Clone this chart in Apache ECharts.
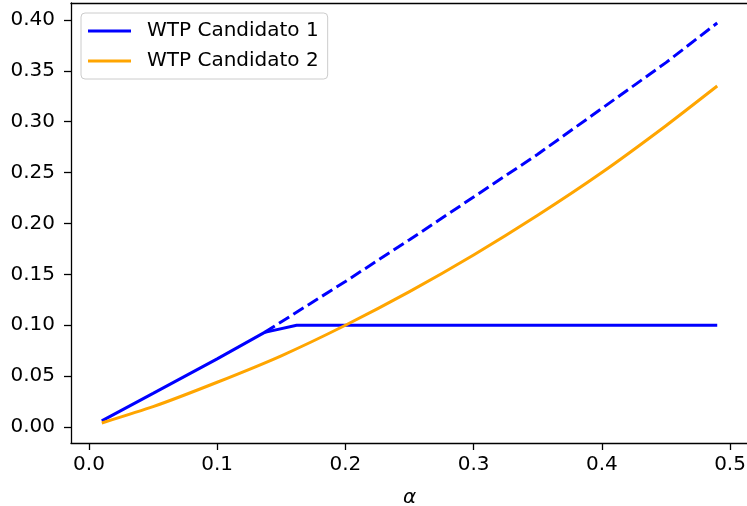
<!DOCTYPE html>
<html>
<head>
<meta charset="utf-8">
<script src="https://cdn.jsdelivr.net/npm/echarts@6/dist/echarts.min.js"></script>
<style>
  html, body { margin: 0; padding: 0; background: #fff; }
  #viz { width: 747px; height: 506px; }
</style>
</head>
<body>
<div id="viz"></div>
<script>
// values
var alphaBlue = [0.01, 0.05, 0.10, 0.137, 0.162, 0.49];
var wtpBlue = [0.006, 0.033, 0.067, 0.093, 0.100, 0.100];

var alphaDash = [0.137, 0.20, 0.25, 0.30, 0.35, 0.40, 0.45, 0.49];
var wtpDash = [0.093, 0.143, 0.184, 0.226, 0.268, 0.313, 0.358, 0.397];

var alphaOrange = [0.01, 0.05, 0.10, 0.15, 0.20, 0.25, 0.30, 0.35, 0.40, 0.45, 0.49];
var wtpOrange = [0.004, 0.020, 0.044, 0.070, 0.100, 0.133, 0.169, 0.208, 0.250, 0.296, 0.335];

var xTicks = [0.0, 0.1, 0.2, 0.3, 0.4, 0.5];
var yTicks = [0.00, 0.05, 0.10, 0.15, 0.20, 0.25, 0.30, 0.35, 0.40];

var names = ['WTP Candidato 1', 'WTP Candidato 2'];

function pairs(xs, ys){
    var out = [];
    for (var i = 0; i < xs.length; i++){
        out.push([xs[i], ys[i]]);
    }
    return out;
}

var FONT = 'DejaVu Sans';
var myChart = echarts.init(document.getElementById('viz'));

var spine = { show: true, onZero: false, lineStyle: { color: '#000', width: 1.3 } };

var option = {
    animation: false,
    backgroundColor: '#ffffff',
    textStyle: { fontFamily: FONT },
    grid: {
        left: 71, top: 3, bottom: 63, width: 677,
        containLabel: false,
        outerBoundsMode: 'none',
        show: false
    },
    legend: {
        data: names,
        orient: 'vertical',
        left: 81, top: 13,
        padding: [8, 9, 8, 7],
        itemGap: 10,
        itemWidth: 43,
        itemHeight: 3,
        icon: 'rect',
        borderColor: '#cccccc',
        borderWidth: 1,
        borderRadius: 4,
        backgroundColor: 'rgba(255,255,255,0.8)',
        textStyle: { fontFamily: FONT, fontSize: 20, color: '#000', padding: [0, 0, 0, 11] }
    },
    xAxis: [{
        type: 'value',
        min: -0.014, max: 0.514,
        name: 'α',
        nameLocation: 'middle',
        nameGap: 45,
        nameTextStyle: { fontFamily: FONT, fontSize: 20, fontStyle: 'italic', color: '#000' },
        axisLine: spine,
        axisTick: { show: true, length: 7, customValues: xTicks, lineStyle: { color: '#000', width: 1.3 } },
        axisLabel: {
            customValues: xTicks,
            margin: 12,
            fontFamily: FONT, fontSize: 20, color: '#000',
            formatter: function(v){ return v.toFixed(1); }
        },
        splitLine: { show: false }
    }, {
        // top spine only
        type: 'value',
        position: 'top',
        min: -0.014, max: 0.514,
        axisLine: spine,
        axisTick: { show: false },
        axisLabel: { show: false },
        splitLine: { show: false }
    }],
    yAxis: {
        type: 'value',
        min: -0.0157, max: 0.4166,
        axisLine: spine,
        axisTick: { show: true, length: 7, customValues: yTicks, lineStyle: { color: '#000', width: 1.3 } },
        axisLabel: {
            customValues: yTicks,
            margin: 16,
            fontFamily: FONT, fontSize: 20, color: '#000',
            formatter: function(v){ return v.toFixed(2); }
        },
        splitLine: { show: false }
    },
    series: [{
        name: names[0],
        type: 'line',
        color: '#0000ff',
        showSymbol: false,
        symbol: 'none',
        lineStyle: { color: '#0000ff', width: 3 },
        data: pairs(alphaBlue, wtpBlue),
        z: 2
    }, {
        name: 'dashed',
        type: 'line',
        showSymbol: false,
        symbol: 'none',
        lineStyle: { color: '#0000ff', width: 3, type: [12, 5] },
        data: pairs(alphaDash, wtpDash),
        z: 2
    }, {
        name: names[1],
        type: 'line',
        color: '#ffa500',
        showSymbol: false,
        symbol: 'none',
        smooth: 0.2,
        lineStyle: { color: '#ffa500', width: 3 },
        data: pairs(alphaOrange, wtpOrange),
        z: 3
    }]
};

myChart.setOption(option, true);
</script>
</body>
</html>
